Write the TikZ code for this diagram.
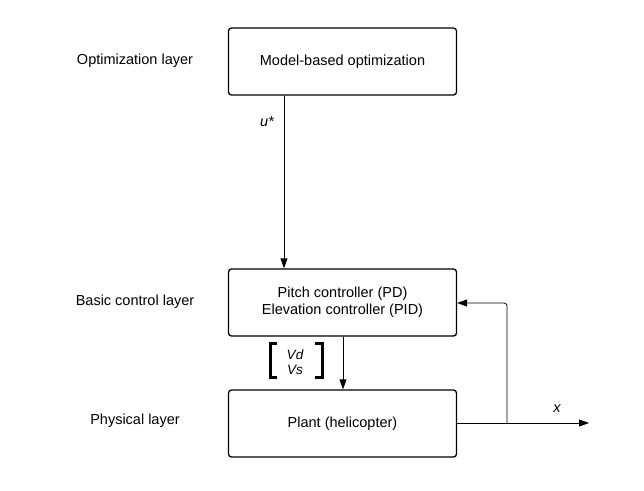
\documentclass[tikz,border=0pt]{standalone}
\usepackage{fontspec}
\setmainfont{Liberation Sans}
\usetikzlibrary{arrows.meta}
\begin{document}
\begin{tikzpicture}[x=1pt,y=-1pt,
  blk/.style={draw, line width=1.3pt, rounded corners=3pt, minimum width=228pt, minimum height=67pt, align=center, font=\fontsize{14.5}{17}\selectfont, inner sep=0pt},
  lyr/.style={font=\fontsize{14.5}{17}\selectfont, inner sep=0pt},
  sig/.style={font=\fontsize{14.5}{17}\selectfont\itshape, inner sep=0pt},
  con/.style={line width=0.8pt, -{Triangle[length=10pt,width=7pt]}},
  brk/.style={line width=3pt}]
\useasboundingbox (0,0) rectangle (644,490);
\node[blk] (opt) at (342.5,61.5) {Model-based optimization};
\node[blk] (ctl) at (342.5,302.5) {Pitch controller (PD)\\Elevation controller (PID)};
\node[blk] (pla) at (342.5,423.5) {Plant (helicopter)};
\node[lyr] (l1) at (135,61) {Optimization layer};
\node[lyr] (l2) at (135,302) {Basic control layer};
\node[lyr] (l3) at (135,421) {Physical layer};
\coordinate (ua) at (284,95);
\draw[con] (opt.south -| ua) -- (ctl.north -| ua);
\node[sig] (us) at (267,122) {u*};
\coordinate (va) at (343,0);
\draw[con] (ctl.south -| va) -- (pla.north -| va);
\node[sig, font=\fontsize{13.5}{15}\selectfont\itshape] (vd) at (295,355) {Vd};
\node[sig, font=\fontsize{13.5}{15}\selectfont\itshape] (vs) at (295,370) {Vs};
\draw[brk] (277,343) -- (270,343) -- (270,377) -- (277,377);
\draw[brk] (315,343) -- (322,343) -- (322,377) -- (315,377);
\coordinate (out) at (589,423);
\draw[con] (pla.east |- out) -- (out);
\node[sig] (xl) at (557,409) {x};
\coordinate (fb) at (507,423);
\draw[con, rounded corners=3pt] (fb) -- (507,303) -- (ctl.east |- 0,303);
\end{tikzpicture}
\end{document}
